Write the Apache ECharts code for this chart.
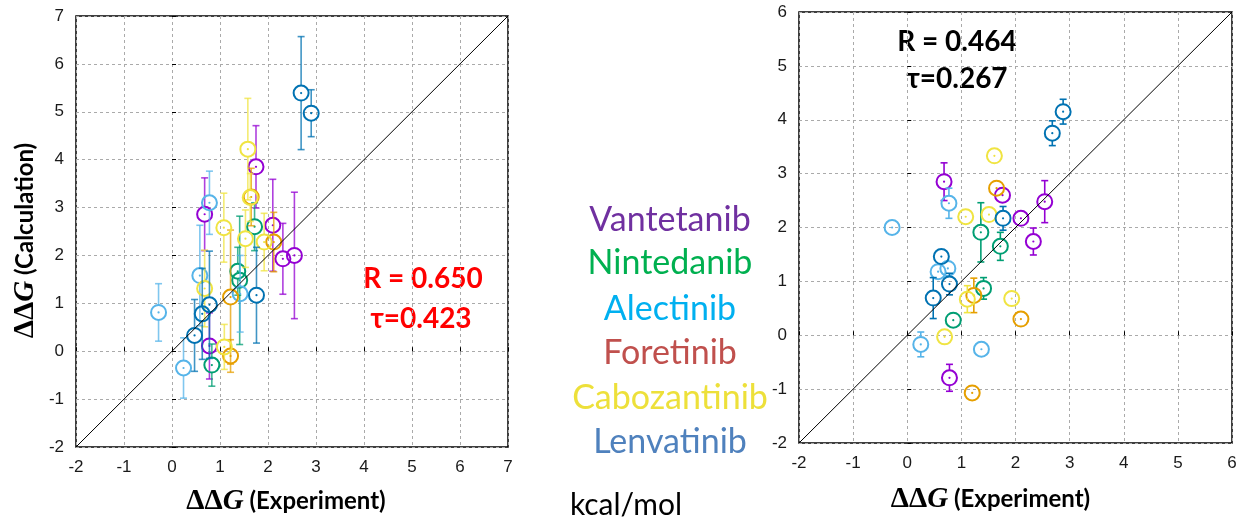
<!DOCTYPE html>
<html>
<head>
<meta charset="utf-8">
<script src="https://cdn.jsdelivr.net/npm/echarts@6/dist/echarts.min.js"></script>
<style>
  html, body { margin: 0; padding: 0; background: #ffffff; }
  #chart { width: 1240px; height: 521px; }
</style>
</head>
<body>
<div id="chart"></div>
<script>
// Each point: [ΔΔG experiment, ΔΔG calculated, error]  (kcal/mol)
// Panel 1
const vantetanibA   = [[0.68, 2.86, 0.76], [1.75, 3.85, 0.86], [2.10, 2.63, 0.96], [2.31, 1.93, 0.74], [2.55, 2.00, 1.32], [0.78, 0.11, 0.69]];
const nintedanibA   = [[1.72, 2.60, 0.50], [1.37, 1.67, 0.50], [1.41, 1.48, 1.34], [0.83, -0.29, 0.44]];
const alectinibA    = [[0.78, 3.10, 0.66], [0.58, 1.58, 1.05], [1.42, 1.20, 0.80], [-0.28, 0.81, 0.60], [0.24, -0.35, 0.63]];
const foretinibA    = [[1.65, 3.22, 0.60], [2.12, 2.28, 0.62], [1.22, 1.13, 1.40], [1.22, -0.10, 0.34]];
const cabozantinibA = [[1.58, 4.22, 1.06], [1.63, 3.21, 0.50], [1.08, 2.58, 0.72], [1.53, 2.35, 0.60], [1.92, 2.28, 0.60], [0.68, 1.31, 0.80], [1.09, 0.09, 0.47]];
const lenvatinibA   = [[2.69, 5.39, 1.18], [2.90, 4.97, 0.49], [1.76, 1.17, 1.00], [0.78, 0.97, 1.12], [0.63, 0.78, 0.95], [0.47, 0.33, 0.75]];

// Panel 2
const vantetanibB   = [[0.68, 2.85, 0.35], [1.76, 2.60, 0], [2.10, 2.17, 0], [2.54, 2.48, 0.39], [2.33, 1.74, 0.25], [0.78, -0.79, 0.25]];
const nintedanibB   = [[1.36, 1.91, 0.55], [1.72, 1.65, 0.26], [1.41, 0.87, 0.20], [0.85, 0.28, 0]];
const alectinibB    = [[0.77, 2.45, 0.28], [-0.28, 2.00, 0], [0.57, 1.18, 0], [0.75, 1.24, 0], [0.25, -0.17, 0.23], [1.37, -0.26, 0.06]];
const foretinibB    = [[1.65, 2.73, 0], [2.10, 0.30, 0], [1.23, 0.74, 0.32], [1.20, -1.07, 0]];
const cabozantinibB = [[1.61, 3.33, 0], [1.08, 2.20, 0], [1.51, 2.24, 0], [1.11, 0.67, 0.25], [1.93, 0.68, 0], [0.69, -0.03, 0]];
const lenvatinibB   = [[2.88, 4.15, 0.23], [2.68, 3.75, 0.23], [1.77, 2.17, 0.22], [0.63, 1.46, 0], [0.78, 0.95, 0.20], [0.48, 0.69, 0.38]];

const drugNames  = ['Vantetanib', 'Nintedanib', 'Alectinib', 'Foretinib', 'Cabozantinib', 'Lenvatinib'];
const markColors = ['#9400D3', '#009E73', '#56B4E9', '#E69F00', '#F0E442', '#0072B2'];
const nameColors = ['#7030A0', '#00B050', '#00B0F0', '#C0504D', '#EDE03A', '#4F81BD'];
const panelA = [vantetanibA, nintedanibA, alectinibA, foretinibA, cabozantinibA, lenvatinibA];
const panelB = [vantetanibB, nintedanibB, alectinibB, foretinibB, cabozantinibB, lenvatinibB];
const rangeA = [-2, 7];
const rangeB = [-2, 6];
const statsA = ['R = 0.650', 'τ=0.423'];
const statsB = ['R = 0.464', 'τ=0.267'];

// open circle with centre dot and vertical error bar
function pointRenderer(barOpacity) {
  return function (params, api) {
    const x = api.value(0), y = api.value(1), err = api.value(2);
    const c = api.coord([x, y]);
    const hi = api.coord([x, y + err]);
    const lo = api.coord([x, y - err]);
    const color = api.visual('color');
    const r = 7.5, cap = 3.5;
    const bar = { stroke: color, lineWidth: 1.6, opacity: barOpacity };
    const kids = [];
    if (c[1] - hi[1] > r) {
      kids.push({ type: 'line', shape: { x1: c[0], y1: hi[1], x2: c[0], y2: c[1] - r }, style: bar });
      kids.push({ type: 'line', shape: { x1: c[0] - cap, y1: hi[1], x2: c[0] + cap, y2: hi[1] }, style: bar });
    }
    if (lo[1] - c[1] > r) {
      kids.push({ type: 'line', shape: { x1: c[0], y1: c[1] + r, x2: c[0], y2: lo[1] }, style: bar });
      kids.push({ type: 'line', shape: { x1: c[0] - cap, y1: lo[1], x2: c[0] + cap, y2: lo[1] }, style: bar });
    }
    kids.push({ type: 'circle', shape: { cx: c[0], cy: c[1], r: r }, style: { fill: 'none', stroke: color, lineWidth: 2 } });
    kids.push({ type: 'circle', shape: { cx: c[0], cy: c[1], r: 1.1 }, style: { fill: color } });
    return { type: 'group', children: kids };
  };
}

const nameRich = {
  d: { fontFamily: 'Liberation Serif', fontWeight: 'bold', fontSize: 29, color: '#000' },
  g: { fontFamily: 'Liberation Serif', fontWeight: 'bold', fontStyle: 'italic', fontSize: 29, color: '#000' },
  t: { fontFamily: 'Lato', fontWeight: 'bold', fontSize: 24, color: '#000' }
};

function valueAxis(range, gridIndex, extra) {
  return Object.assign({
    type: 'value', gridIndex: gridIndex, min: range[0], max: range[1], interval: 1,
    axisLine: { show: false },
    axisTick: { show: true, inside: true, length: 4, lineStyle: { color: '#000', width: 1 } },
    axisLabel: { color: '#1a1a1a', fontSize: 17, fontFamily: 'Liberation Sans', margin: 12 },
    splitLine: { show: true, lineStyle: { color: '#aaaaaa', type: [3, 3], width: 1 } },
    nameLocation: 'middle',
    nameTextStyle: { rich: nameRich }
  }, extra || {});
}

const series = [];
function addPanel(panel, range, idx, barOpacity) {
  panel.forEach(function (pts, i) {
    series.push({
      type: 'custom', name: drugNames[i], xAxisIndex: idx, yAxisIndex: idx,
      itemStyle: { color: markColors[i] },
      renderItem: pointRenderer(barOpacity),
      encode: { x: 0, y: 1 },
      data: pts, z: 3
    });
  });
  series.push({
    type: 'line', xAxisIndex: idx, yAxisIndex: idx, symbol: 'none', silent: true,
    lineStyle: { color: '#000', width: 1 },
    data: [[range[0], range[0]], [range[1], range[1]]], z: 4
  });
}
addPanel(panelA, rangeA, 0, 0.75);
addPanel(panelB, rangeB, 1, 1);

const graphics = [];
drugNames.forEach(function (n, i) {
  graphics.push({
    type: 'text',
    style: { text: n, x: 670, y: [220, 263, 309, 353, 398, 442][i], fill: nameColors[i],
             font: '34px Lato', textAlign: 'center', textVerticalAlign: 'middle' }
  });
});
graphics.push({ type: 'text', style: { text: 'kcal/mol', x: 626, y: 505, fill: '#000', font: '30px Lato', textAlign: 'center', textVerticalAlign: 'middle' } });
graphics.push({ type: 'text', style: { text: statsA[0], x: 423, y: 279, fill: '#ff0000', font: 'bold 28px Lato', textAlign: 'center', textVerticalAlign: 'middle' } });
graphics.push({ type: 'text', style: { text: statsA[1], x: 421, y: 319, fill: '#ff0000', font: 'bold 28px Lato', textAlign: 'center', textVerticalAlign: 'middle' } });
graphics.push({ type: 'text', style: { text: statsB[0], x: 957, y: 42, fill: '#000', font: 'bold 28px Lato', textAlign: 'center', textVerticalAlign: 'middle' } });
graphics.push({ type: 'text', style: { text: statsB[1], x: 957, y: 79, fill: '#000', font: 'bold 28px Lato', textAlign: 'center', textVerticalAlign: 'middle' } });

const chart = echarts.init(document.getElementById('chart'), null, { renderer: 'canvas' });
chart.setOption({
  animation: false,
  backgroundColor: '#ffffff',
  grid: [
    { left: 76, right: 732, top: 16, bottom: 73, show: true, borderColor: '#000', borderWidth: 1.5, backgroundColor: 'transparent' },
    { left: 799, right: 8, top: 12, bottom: 78, show: true, borderColor: '#000', borderWidth: 1.5, backgroundColor: 'transparent' }
  ],
  xAxis: [
    valueAxis(rangeA, 0, { name: '{d|ΔΔ}{g|G}{t| (Experiment)}', nameGap: 40, nameTextStyle: { rich: nameRich, padding: [0, 12, 0, 0] } }),
    valueAxis(rangeB, 1, { name: '{d|ΔΔ}{g|G}{t| (Experiment)}', nameGap: 42, nameTextStyle: { rich: nameRich, padding: [0, 50, 0, 0] } })
  ],
  yAxis: [
    valueAxis(rangeA, 0, { name: '{d|ΔΔ}{g|G}{t| (Calculation)}', nameGap: 36, nameRotate: 90, nameTextStyle: { rich: nameRich, padding: [0, 18, 0, 0] } }),
    valueAxis(rangeB, 1, {})
  ],
  series: series,
  graphic: graphics
});
</script>
</body>
</html>
